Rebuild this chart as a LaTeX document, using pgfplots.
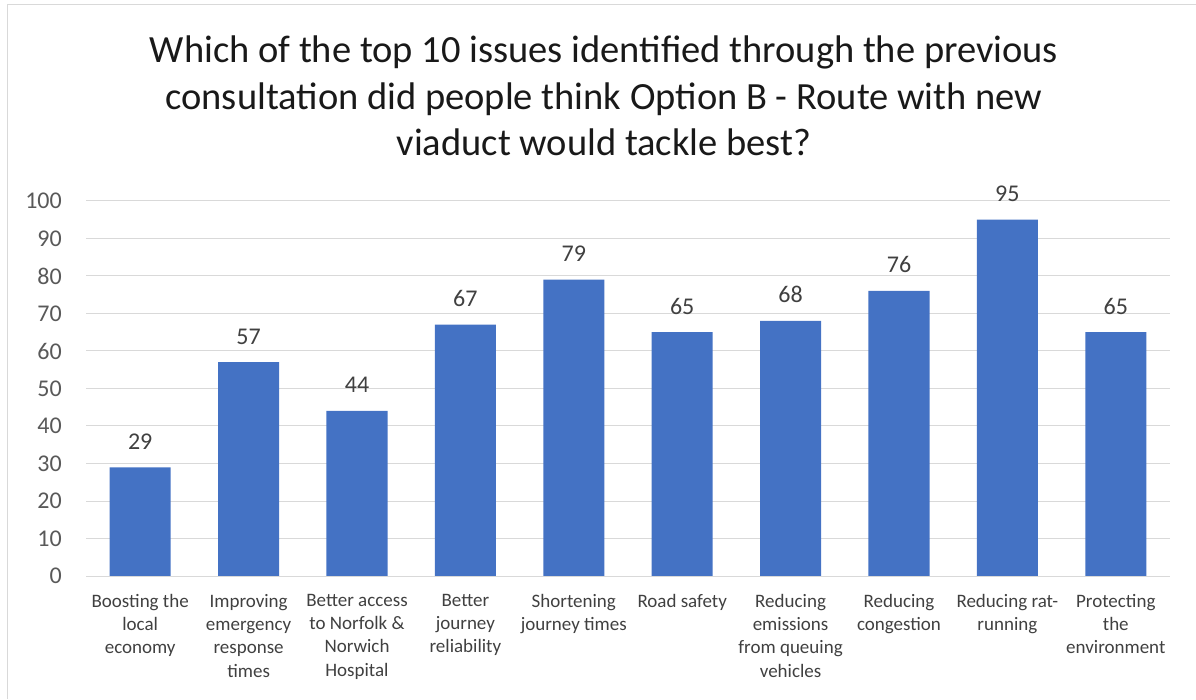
\documentclass[border=0pt]{standalone}
\usepackage{pgfplots}
\pgfplotsset{compat=1.18}
\usepackage{fontspec}
\setmainfont{Carlito}
\definecolor{barblue}{HTML}{4472C4}
\definecolor{gridgray}{HTML}{D9D9D9}
\definecolor{ticktxt}{HTML}{595959}
\definecolor{lbltxt}{HTML}{404040}
\begin{document}
\begin{tikzpicture}[x=1pt,y=1pt]
\useasboundingbox (0,0) rectangle (1196,699);
\draw[gridgray, line width=1pt] (7,0) -- (7,694) -- (1196,694);
\node[anchor=base, font=\fontsize{38.5}{46}\selectfont, text=black!90, inner sep=0pt] at (604,636) {Which of the top 10 issues identified through the previous};
\node[anchor=base, font=\fontsize{38.5}{46}\selectfont, text=black!90, inner sep=0pt] at (604,589) {consultation did people think Option B - Route with new};
\node[anchor=base, font=\fontsize{38.5}{46}\selectfont, text=black!90, inner sep=0pt] at (604,543) {viaduct would tackle best?};
\begin{axis}[
  at={(86pt,123pt)}, anchor=south west,
  scale only axis, width=1084pt, height=375pt,
  ybar, bar width=61pt,
  xmin=-0.5, xmax=9.5, ymin=0, ymax=100,
  ytick={0,10,...,100},
  xtick=data,
  xticklabels={
    {Boosting the\\local\\economy},
    {Improving\\emergency\\response\\times},
    {Better access\\to Norfolk \&\\Norwich\\Hospital},
    {Better\\journey\\reliability},
    {Shortening\\journey times},
    {Road safety},
    {Reducing\\emissions\\from queuing\\vehicles},
    {Reducing\\congestion},
    {Reducing rat-\\running},
    {Protecting\\the\\environment}},
  axis line style={draw=none},
  ymajorgrids, grid style={gridgray, line width=1pt},
  major tick length=0pt,
  /pgf/number format/assume math mode=true,
  yticklabel style={font=\fontsize{24}{28}\selectfont, text=ticktxt, inner sep=0pt, anchor=east, xshift=-24pt},
  xticklabel style={font=\fontsize{19}{23.3}\selectfont, text=lbltxt, align=center, inner sep=0pt, anchor=north, yshift=-18pt},
  nodes near coords,
  every node near coord/.append style={font=\fontsize{24}{28}\selectfont, text=lbltxt, anchor=base, yshift=18pt, inner sep=0pt},
  clip=false,
]
\addplot[fill=barblue, draw=none] coordinates {(0,29) (1,57) (2,44) (3,67) (4,79) (5,65) (6,68) (7,76) (8,95) (9,65)};
\draw[gridgray, line width=1pt] (axis cs:-0.5,0) -- (axis cs:9.5,0);
\end{axis}
\end{tikzpicture}
\end{document}
